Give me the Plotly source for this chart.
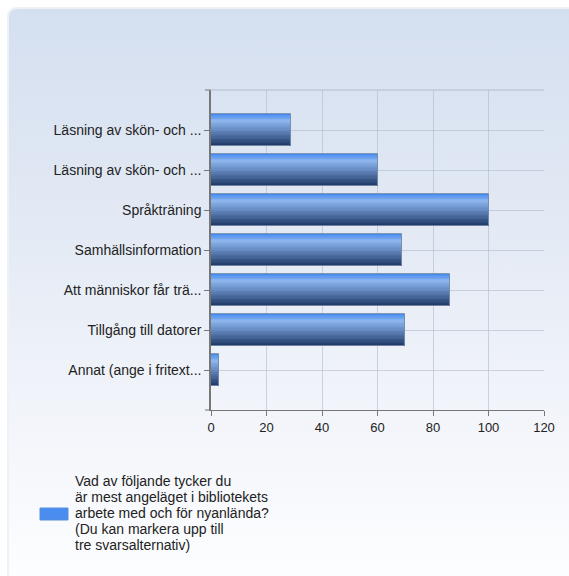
import base64
import plotly.graph_objects as go

# Survey answers (count of respondents per option)
categories = [
    "Läsning av skön- och ...",
    "Läsning av skön- och ...",
    "Språkträning",
    "Samhällsinformation",
    "Att människor får trä...",
    "Tillgång till datorer",
    "Annat (ange i fritext...",
]
values = [29, 60, 100, 69, 86, 70, 3]
x_ticks = [0, 20, 40, 60, 80, 100, 120]
legend_lines = [
    "Vad av följande tycker du",
    "är mest angeläget i bibliotekets",
    "arbete med och för nyanlända?",
    "(Du kan markera upp till",
    "tre svarsalternativ)",
]

positions = list(range(len(categories)))

W, H = 569, 576
ML, MR, MT, MB = 211, 25, 90, 166
PW, PH = W - ML - MR, H - MT - MB
FONT = "Liberation Sans, Arial, sans-serif"

# Vertical colour ramp across each bar's thickness (top -> bottom)
stops = [(0.0, (62, 134, 240)), (0.22, (142, 182, 238)), (0.5, (104, 140, 196)),
         (1.0, (30, 56, 100))]


def ramp(t):
    for (t0, c0), (t1, c1) in zip(stops, stops[1:]):
        if t0 <= t <= t1:
            f = (t - t0) / (t1 - t0)
            return "rgb(%d,%d,%d)" % tuple(round(a + (b - a) * f) for a, b in zip(c0, c1))
    return "rgb(%d,%d,%d)" % stops[-1][1]


fig = go.Figure()
bar_w = 0.8
n_slices = 24
step = bar_w / n_slices
for i in range(n_slices):
    fig.add_trace(go.Bar(
        x=values, y=positions, orientation="h",
        width=step * 1.05, offset=-bar_w / 2 + i * step,
        marker=dict(color=ramp((i + 0.5) / n_slices), line=dict(width=0)),
        showlegend=False, hoverinfo="skip",
    ))
# outline on top of the shaded slices
fig.add_trace(go.Bar(
    x=values, y=positions, orientation="h", width=bar_w,
    marker=dict(color="rgba(0,0,0,0)", line=dict(color="rgba(120,140,170,0.9)", width=1)),
    showlegend=False, customdata=categories,
    hovertemplate="%{customdata}: %{x}<extra></extra>",
))

# Panel background: rounded card with a soft vertical gradient
svg = f"""<svg xmlns='http://www.w3.org/2000/svg' width='{W}' height='{H}' viewBox='0 0 {W} {H}'>
<defs><linearGradient id='g' x1='0' y1='0' x2='0' y2='1'>
<stop offset='0' stop-color='#d4dff0'/><stop offset='0.35' stop-color='#e2e9f4'/>
<stop offset='0.75' stop-color='#f4f6fb'/><stop offset='1' stop-color='#fdfeff'/></linearGradient></defs>
<rect x='7' y='7' width='{W}' height='{H}' rx='9' fill='#eef1f6'/>
<rect x='9' y='9' width='{W}' height='{H}' rx='8' fill='url(#g)'/>
</svg>"""
src = "data:image/svg+xml;base64," + base64.b64encode(svg.encode()).decode()


def px_x(p):
    return (p - ML) / PW


def px_y(p):
    return (H - MB - p) / PH


fig.add_layout_image(dict(
    source=src, xref="paper", yref="paper", x=px_x(0), y=px_y(0),
    sizex=W / PW, sizey=H / PH, sizing="stretch", layer="below",
    xanchor="left", yanchor="top",
))

grid = "rgba(175,186,202,0.6)"
shapes = [
    # top frame line with a small stub to the left
    dict(type="line", xref="paper", yref="paper", x0=px_x(205), x1=1, y0=1, y1=1,
         line=dict(color="rgba(170,180,195,0.8)", width=1)),
    dict(type="line", xref="paper", yref="paper", x0=px_x(205), x1=0, y0=1, y1=1,
         line=dict(color="#888", width=1)),
    # bottom stub extending the value axis to the left
    dict(type="line", xref="paper", yref="paper", x0=px_x(205), x1=0, y0=0, y1=0,
         line=dict(color="#777", width=1)),
    # legend swatch
    dict(type="rect", xref="paper", yref="paper", x0=px_x(40), x1=px_x(68),
         y0=px_y(520), y1=px_y(508), fillcolor="#4a8cf0",
         line=dict(color="#5b8fd8", width=1)),
]

legend_y = [481, 497, 513, 529, 545]
annotations = [
    dict(xref="paper", yref="paper", x=px_x(73), y=px_y(yy), xanchor="left", yanchor="middle",
         text=line, showarrow=False, align="left",
         font=dict(family=FONT, size=14, color="#222"))
    for line, yy in zip(legend_lines, legend_y)
]

fig.update_layout(
    width=W, height=H,
    margin=dict(l=ML, r=MR, t=MT, b=MB),
    paper_bgcolor="white", plot_bgcolor="rgba(0,0,0,0)",
    barmode="overlay", bargap=0,
    font=dict(family=FONT, size=12, color="#222"),
    shapes=shapes,
    annotations=annotations,
    xaxis=dict(
        range=[0, 120], tickvals=x_ticks, showgrid=True, gridcolor=grid, gridwidth=1,
        zeroline=False, showline=True, linecolor="#777", linewidth=1,
        ticks="outside", ticklen=5, tickcolor="#777",
        tickfont=dict(family=FONT, size=13, color="#222"),
    ),
    yaxis=dict(
        range=[len(categories), -1], tickvals=positions, ticktext=categories,
        showgrid=True, gridcolor=grid, gridwidth=1, zeroline=False,
        showline=True, linecolor="#777", linewidth=1.5,
        ticks="outside", ticklen=5, tickcolor="#777",
        tickfont=dict(family=FONT, size=14, color="#222"),
    ),
)

fig.write_html("out.html")
